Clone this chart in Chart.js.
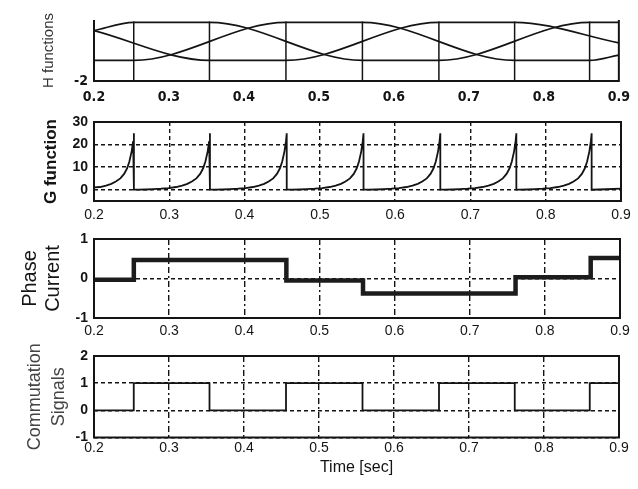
<!DOCTYPE html>
<html>
<head>
<meta charset="utf-8">
<script src="https://cdn.jsdelivr.net/npm/chart.js@4.4.0/dist/chart.umd.min.js"></script>
<style>
  html, body { margin: 0; padding: 0; background: #fff; }
  #wrap { position: relative; width: 638px; height: 489px; overflow: hidden; }
  #wrap canvas { position: absolute; left: 0; top: 0; }
</style>
</head>
<body>
<div id="wrap">
  <canvas id="hChart" width="638" height="489"></canvas>
  <canvas id="gChart" width="638" height="489"></canvas>
  <canvas id="iChart" width="638" height="489"></canvas>
  <canvas id="sChart" width="638" height="489"></canvas>
</div>
<script>
// ---- values ----
const xTicks = [0.2, 0.3, 0.4, 0.5, 0.6, 0.7, 0.8, 0.9];
const commutationTimes = [0.253, 0.354, 0.456, 0.558, 0.66, 0.761, 0.861];

// H functions: corner points of the three curves
const hTimeA = [0.2, 0.253, 0.354, 0.558, 0.66, 0.861, 0.9];
const hValA  = [1.3, 1.85, 1.85, -0.65, -0.65, 1.85, 1.85];
const hTimeB = [0.2, 0.253, 0.456, 0.558, 0.761, 0.861, 0.9];
const hValB  = [-0.65, -0.65, 1.85, 1.85, -0.65, -0.65, -0.3];
const hTimeC = [0.2, 0.354, 0.456, 0.66, 0.761, 0.9];
const hValC  = [1.3, -0.65, -0.65, 1.85, 1.85, 0.5];
const hLineTop = 1.9;
const hYTicks = [-2];

// G function: rise before each commutation (time before the spike -> value)
const gLead = [0.095, 0.085, 0.075, 0.065, 0.055, 0.045, 0.037, 0.03, 0.024, 0.018, 0.013, 0.009, 0.006, 0.003, 0.001, 0];
const gRise = [0, 0.1, 0.25, 0.45, 0.75, 1.2, 1.8, 2.6, 3.6, 5.0, 7.0, 9.5, 12.5, 17, 21.5, 25];
const gStart = 1.0;
const gTailTime = [0.88, 0.9];
const gTailVal  = [0.2, 0.5];
const gYTicks = [0, 10, 20, 30];

// phase current, each level held until the next time
const iTime = [0.2, 0.253, 0.456, 0.558, 0.761, 0.861, 0.9];
const iVal  = [-0.03, 0.47, -0.05, -0.38, 0.03, 0.52, 0.52];
const iYTicks = [-1, 0, 1];

// commutation signal
const sTime = [0.2, 0.253, 0.354, 0.456, 0.558, 0.66, 0.761, 0.861, 0.9];
const sVal  = [0, 1, 0, 1, 0, 1, 0, 1, 1];
const sYTicks = [-1, 0, 1, 2];

// ---- build points ----
const pts = (t, v) => t.map((x, i) => ({x: x, y: v[i]}));

const hLinePoints = [];
commutationTimes.forEach(c => {
  hLinePoints.push({x: c, y: -2}, {x: c, y: hLineTop}, {x: c, y: null});
});

const gPoints = [{x: 0.2, y: gStart}];
commutationTimes.forEach(c => {
  gLead.forEach((d, i) => {
    if (c - d > 0.2) gPoints.push({x: c - d, y: gRise[i]});
  });
  gPoints.push({x: c, y: 0});
});
gTailTime.forEach((t, i) => gPoints.push({x: t, y: gTailVal[i]}));

// ---- drawing ----
const ink = '#141414';
const sans = "'Liberation Sans', Arial, sans-serif";
const narrow = "'Liberation Sans Narrow', 'DejaVu Sans Condensed', sans-serif";

const framePlugin = {
  id: 'frame',
  afterDatasetsDraw(chart, args, opts) {
    const {ctx, chartArea} = chart;
    const {left, top, right, bottom} = chartArea;
    ctx.save();
    ctx.strokeStyle = ink;
    ctx.lineWidth = 2;
    ctx.beginPath();
    if (opts.openTop) {
      ctx.moveTo(left, top);
      ctx.lineTo(left, bottom);
      ctx.lineTo(right, bottom);
      ctx.lineTo(right, top);
    } else {
      ctx.rect(left, top, right - left, bottom - top);
    }
    ctx.stroke();
    ctx.restore();
  }
};

function panel(id, box, datasets, o) {
  return new Chart(document.getElementById(id), {
    type: 'line',
    data: { datasets: datasets },
    options: {
      responsive: false,
      animation: false,
      events: [],
      layout: { padding: { left: 0, top: box.top, right: 638 - box.right, bottom: 489 - box.bottom - 40 } },
      elements: {
        point: { radius: 0 },
        line: { borderColor: ink, borderWidth: 1.7, fill: false }
      },
      plugins: {
        legend: { display: false },
        tooltip: { enabled: false },
        frame: { openTop: !!o.openTop }
      },
      scales: {
        x: {
          type: 'linear', min: 0.2, max: 0.9,
          afterBuildTicks: s => { s.ticks = xTicks.map(v => ({value: v})); },
          afterFit: s => { s.height = 40; },
          grid: { display: !!o.xDash, color: ink, lineWidth: 1.4, drawTicks: false },
          border: { display: false, dash: o.xDash || [] },
          ticks: { color: ink, padding: o.xPad, font: o.xFont, maxRotation: 0, autoSkip: false,
                   callback: v => Number(v).toFixed(1) },
          title: o.xTitle ? { display: true, text: o.xTitle, color: ink, padding: 0,
                              font: { family: sans, size: 16 } } : { display: false }
        },
        y: {
          type: 'linear', min: o.yMin, max: o.yMax,
          afterBuildTicks: s => { s.ticks = o.yTicks.map(v => ({value: v})); },
          afterFit: s => { s.width = box.left; },
          grid: { display: !!o.yDash, color: ink, lineWidth: 1.4, drawTicks: false },
          border: { display: false, dash: o.yDash || [] },
          ticks: { color: ink, padding: 6, font: o.yFont },
          title: { display: true, text: o.yTitle, color: o.yTitleColor || ink,
                   font: o.yTitleFont, padding: { top: o.yTitlePad, bottom: 0 } }
        }
      }
    },
    plugins: [framePlugin]
  });
}

// H functions
panel('hChart', {left: 94, right: 621, top: 20, bottom: 81}, [
  { data: pts(hTimeA, hValA), cubicInterpolationMode: 'monotone' },
  { data: pts(hTimeB, hValB), cubicInterpolationMode: 'monotone' },
  { data: pts(hTimeC, hValC), cubicInterpolationMode: 'monotone' },
  { data: hLinePoints, borderWidth: 1.5, spanGaps: false }
], {
  openTop: true, yMin: -2, yMax: 2, yTicks: hYTicks, xPad: 8,
  xFont: { family: narrow, size: 14, weight: 'bold' },
  yFont: { family: narrow, size: 14, weight: 'bold' },
  yTitle: 'H functions', yTitleColor: '#333', yTitlePad: 40,
  yTitleFont: { family: sans, size: 15, lineHeight: 1.2 }
});

// G function
panel('gChart', {left: 94, right: 621, top: 122, bottom: 201}, [
  { data: gPoints, borderWidth: 1.8 }
], {
  yMin: -5, yMax: 30, yTicks: gYTicks, xPad: 6,
  xDash: [4, 3], yDash: [4, 3],
  xFont: { family: sans, size: 14 },
  yFont: { family: sans, size: 14, weight: 'bold' },
  yTitle: 'G function', yTitlePad: 41,
  yTitleFont: { family: sans, size: 17, weight: 'bold', lineHeight: 1.2 }
});

// phase current
panel('iChart', {left: 94, right: 620, top: 239, bottom: 318}, [
  { data: pts(iTime, iVal), stepped: true, borderWidth: 4.5, borderColor: '#1c1c1c' }
], {
  yMin: -1, yMax: 1, yTicks: iYTicks, xPad: 5,
  xDash: [6, 3, 2, 3], yDash: [4, 3],
  xFont: { family: sans, size: 14 },
  yFont: { family: sans, size: 14, weight: 'bold' },
  yTitle: ['Phase', 'Current'], yTitlePad: 18.5,
  yTitleFont: { family: sans, size: 20, lineHeight: 1.15 }
});

// commutation signals
panel('sChart', {left: 94, right: 619, top: 356, bottom: 437.5}, [
  { data: pts(sTime, sVal), stepped: true, borderWidth: 1.8 }
], {
  yMin: -1, yMax: 2, yTicks: sYTicks, xPad: 2,
  xDash: [6, 3, 2, 3], yDash: [4, 3],
  xFont: { family: sans, size: 14 },
  yFont: { family: sans, size: 14, weight: 'bold' },
  xTitle: 'Time [sec]',
  yTitle: ['Commutation', 'Signals'], yTitleColor: '#444', yTitlePad: 23,
  yTitleFont: { family: sans, size: 18, lineHeight: 1.35 }
});
</script>
</body>
</html>
